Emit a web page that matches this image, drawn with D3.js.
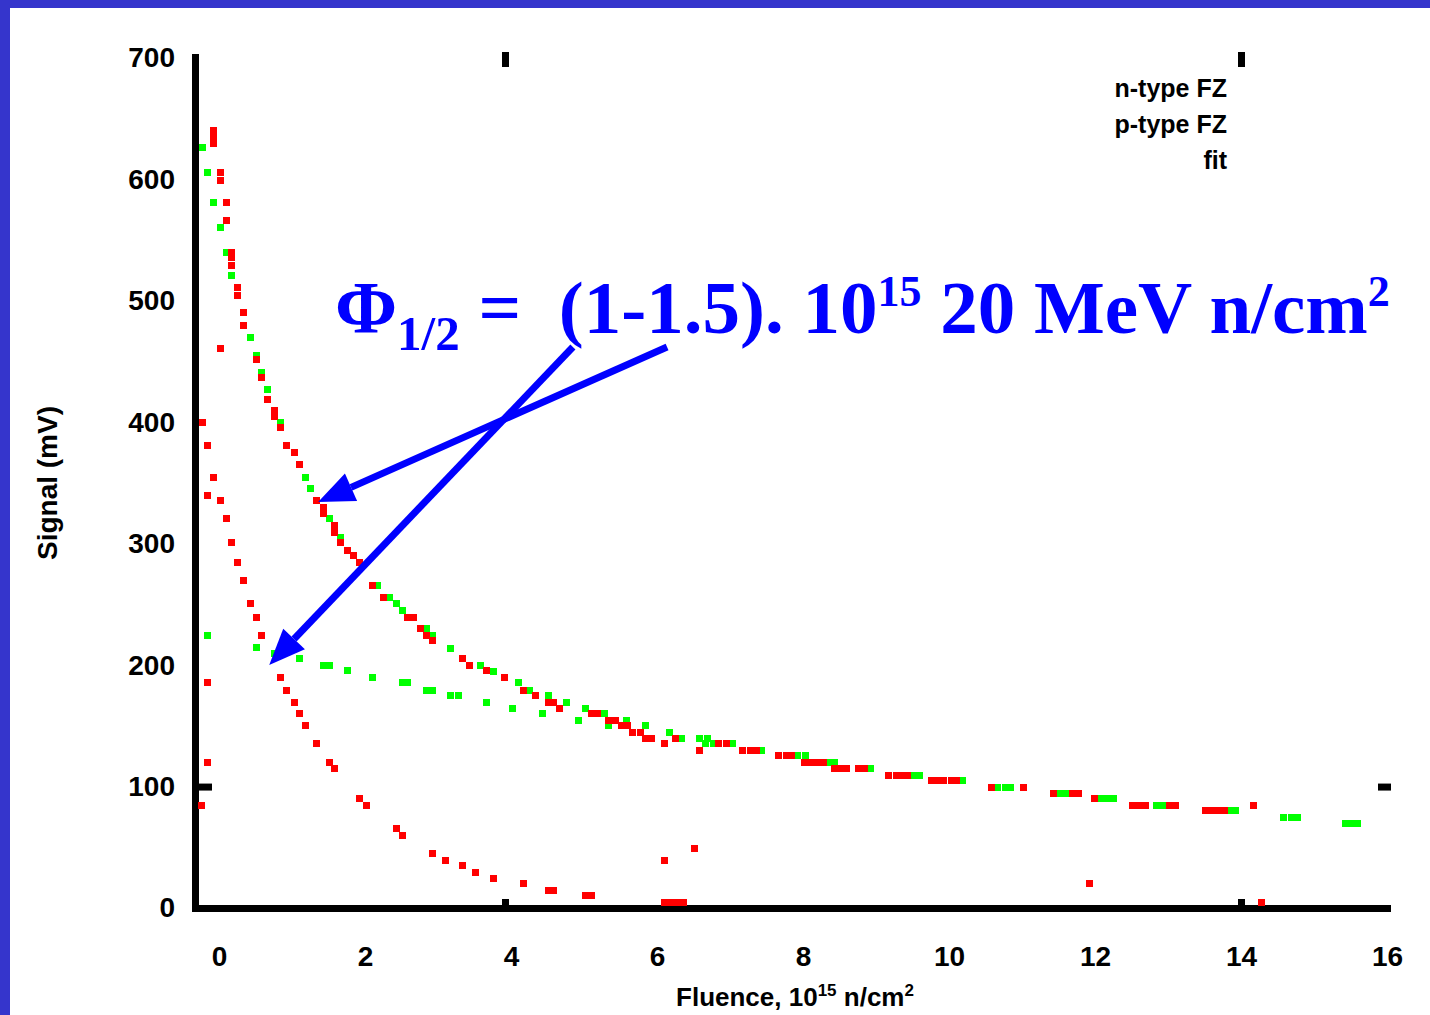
<!DOCTYPE html>
<html>
<head>
<meta charset="utf-8">
<script src="https://cdn.jsdelivr.net/npm/d3@7"></script>
<style>
body{margin:0;background:#fff;overflow:hidden}
svg{display:block}
.tick text{font-family:"Liberation Sans",Arial,sans-serif;font-weight:bold;font-size:28px;fill:#000}
.label{font-family:"Liberation Sans",Arial,sans-serif;font-weight:bold;fill:#000}
</style>
</head>
<body>
<div id="graph"></div>
<script>
// [fluence, signal]
const redUpper = [
	[0.01,640.7],[0.01,634.9],[0.01,630.0],[0.10,605.3],[0.10,599.5],[0.19,580.6],[0.19,565.8],
	[0.26,540.2],[0.26,535.3],[0.26,529.5],[0.34,510.6],[0.34,504.8],[0.42,490.8],[0.42,480.1],
	[0.59,451.3],[0.67,436.5],[0.75,418.4],[0.84,410.1],[0.84,404.4],[0.93,395.3],[1.01,380.5],
	[1.11,375.5],[1.19,365.6],[1.42,335.2],[1.51,330.2],[1.51,324.5],[1.67,315.4],[1.67,309.6],
	[1.75,300.6],[1.84,294.8],[1.93,289.9],[2.01,284.9],[2.18,265.2],[2.34,255.3],[2.67,239.6],
	[2.75,239.6],[2.84,229.8],[2.92,224.8],[3.01,219.9],[3.42,205.1],[3.51,200.1],[3.75,195.2],
	[3.99,190.2],[4.26,179.5],[4.42,174.6],[4.59,169.6],[4.67,169.6],[4.75,164.7],[5.18,159.8],
	[5.27,159.8],[5.42,154.8],[5.52,154.8],[5.59,149.9],[5.68,149.9],[5.75,144.9],[5.85,144.9],
	[5.92,140.0],[6.01,140.0],[6.18,135.1],[6.34,140.0],[6.67,130.1],[6.93,135.1],[7.03,135.1],
	[7.26,130.1],[7.36,130.1],[7.44,130.1],[7.75,125.2],[7.85,125.2],[7.93,125.2],[8.10,120.2],
	[8.19,120.2],[8.27,120.2],[8.36,120.2],[8.51,114.5],[8.59,114.5],[8.68,114.5],[8.84,114.5],
	[8.93,114.5],[9.26,109.5],[9.36,109.5],[9.44,109.5],[9.52,109.5],[9.84,104.6],[9.93,104.6],
	[10.01,104.6],[10.11,104.6],[10.19,104.6],[10.67,99.6],[11.10,99.6],[11.51,94.7],[11.77,94.7],
	[11.85,94.7],[12.08,89.8],[12.59,84.8],[12.68,84.8],[12.77,84.8],[13.10,84.8],[13.19,84.8],
	[13.59,79.9],[13.68,79.9],[13.77,79.9],[13.85,79.9],[14.26,84.8]
];
const greenUpper = [
	[-0.15,625.9],[-0.07,605.3],[0.01,580.6],[0.10,560.8],[0.18,540.2],[0.26,520.5],[0.51,470.2],
	[0.59,455.4],[0.67,441.4],[0.75,426.6],[0.93,400.2],[1.27,354.9],[1.34,345.1],[1.59,320.4],
	[1.75,305.5],[2.26,265.2],[2.42,255.3],[2.51,250.4],[2.59,245.4],[2.93,229.8],[3.01,224.8],
	[3.26,214.1],[3.67,199.3],[3.84,194.4],[4.18,185.3],[4.34,179.5],[4.59,174.6],[4.84,169.6],
	[5.10,164.7],[5.36,159.8],[5.67,154.8],[5.92,149.9],[6.26,144.9],[6.42,140.0],[6.67,140.0],
	[6.77,140.0],[7.11,135.1],[7.52,130.1],[8.01,125.2],[8.11,125.2],[8.44,120.2],[8.52,120.2],
	[9.01,114.5],[9.60,109.5],[9.68,109.5],[10.27,104.6],[10.75,99.6],[10.85,99.6],[10.93,99.6],
	[11.60,94.7],[11.68,94.7],[12.16,89.8],[12.26,89.8],[12.34,89.8],[12.92,84.8],[13.01,84.8],
	[13.93,79.9],[14.01,79.9],[14.67,74.9],[14.77,74.9],[14.85,74.9],[15.51,70.0],[15.60,70.0],
	[15.68,70.0]
];
const greenLower = [
	[-0.07,224.8],[0.59,214.9],[0.84,210.0],[1.19,205.1],[1.51,200.1],[1.59,200.1],[1.84,195.2],
	[2.18,190.2],[2.59,185.3],[2.67,185.3],[2.93,179.5],[3.01,179.5],[3.26,174.6],[3.36,174.6],
	[3.75,169.6],[4.10,164.7],[4.51,159.8],[5.01,154.8],[5.42,149.9],[6.75,135.1],[6.85,135.1]
];
const redLower = [
	[-0.15,400.2],[-0.07,380.5],[0.01,354.9],[0.10,335.2],[0.18,320.4],[0.26,300.6],[0.34,284.9],
	[0.42,270.1],[0.51,250.4],[0.59,239.6],[0.67,224.8],[0.93,190.2],[1.01,179.5],[1.11,169.6],
	[1.19,159.8],[1.27,149.9],[1.42,135.1],[1.59,120.2],[1.67,114.5],[2.01,89.8],[2.10,84.8],
	[2.51,65.1],[2.59,60.1],[3.01,44.5],[3.18,39.5],[3.42,34.6],[3.59,29.6],[3.84,24.7],
	[4.26,19.8],[4.59,14.8],[4.67,14.8],[5.10,9.9],[5.19,9.9],[6.18,4.9],[6.27,4.9],[6.36,4.9],[6.44,4.9]
];
const redStray = [
	[0.10,460.4],[-0.07,340.1],[-0.07,185.3],[-0.07,120.2],[-0.16,84.8],[6.59,49.4],[6.18,39.5],
	[12.00,19.8],[14.36,4.9]
];
const xTicks = [0,2,4,6,8,10,12,14,16];
const yTicks = [0,100,200,300,400,500,600,700];
const legendLines = ['n-type FZ','p-type FZ','fit'];

const w = 1430;
const h = 1015;
const border = '#3535cc';
const svg = d3.select('#graph')
	.append('svg')
	.attr('width',w)
	.attr('height',h);

svg.append('rect').attr('width',w).attr('height',h).attr('fill','#fff');
// blue frame of the slide
svg.append('rect').attr('x',0).attr('y',0).attr('width',w).attr('height',8).attr('fill',border);
svg.append('rect').attr('x',0).attr('y',0).attr('width',10).attr('height',h).attr('fill',border);

const xScale = d3.scaleLinear()
	.domain([0,16])
	.range([213,1381]);
const yScale = d3.scaleLinear()
	.domain([0,700])
	.range([908,58]);

//x-Axis
svg.append('g')
	.attr('transform','translate(6,908)')
	.call(d3.axisBottom(xScale).tickValues(xTicks).tickSize(0).tickPadding(38))
	.call(g => g.select('.domain').remove());

//y-Axis
svg.append('g')
	.attr('transform','translate(195,0)')
	.call(d3.axisLeft(yScale).tickValues(yTicks).tickSize(0).tickPadding(20))
	.call(g => g.select('.domain').remove());

svg.append('line').attr('x1',195.5).attr('x2',195.5).attr('y1',54).attr('y2',912)
	.attr('stroke','#000').attr('stroke-width',7);
svg.append('line').attr('x1',192).attr('x2',1391).attr('y1',908.5).attr('y2',908.5)
	.attr('stroke','#000').attr('stroke-width',7);

// leftover frame ticks
const bits = [
	[xScale(4)-3,52,7,15],[xScale(14)+3,52,7,15],
	[xScale(4)-3,899,7,7],[xScale(14)+3,899,7,7],
	[199,yScale(100)-3,13,7],[1378,yScale(100)-3,13,7]
];
svg.selectAll('rect.bit')
	.data(bits)
	.enter()
	.append('rect')
	.attr('class','bit')
	.attr('x',d => d[0]).attr('y',d => d[1])
	.attr('width',d => d[2]).attr('height',d => d[3])
	.attr('fill','#000');

function dots(data,color) {
	svg.append('g')
		.selectAll('rect')
		.data(data)
		.enter()
		.append('rect')
		.attr('x',d => xScale(d[0])-3.5)
		.attr('y',d => yScale(d[1])-3.5)
		.attr('width',7)
		.attr('height',7)
		.attr('fill',color)
		.attr('shape-rendering','crispEdges');
}
dots(greenLower,'#00ff00');
dots(redLower,'#ff0000');
dots(redStray,'#ff0000');
dots(greenUpper,'#00ff00');
dots(redUpper,'#ff0000');

// legend (text only)
svg.selectAll('text.leg')
	.data(legendLines)
	.enter()
	.append('text')
	.attr('class','label leg')
	.attr('x',1227)
	.attr('y',(d,i) => 97+i*36)
	.attr('text-anchor','end')
	.attr('font-size',25)
	.text(d => d);

//y-label
svg.append('text')
	.attr('class','label')
	.attr('transform','translate(57,483) rotate(-90)')
	.attr('text-anchor','middle')
	.attr('font-size',28)
	.text('Signal (mV)');

//x-label
const xl = svg.append('text')
	.attr('class','label')
	.attr('x',795)
	.attr('y',1006)
	.attr('text-anchor','middle')
	.attr('font-size',26);
xl.append('tspan').text('Fluence, 10');
xl.append('tspan').attr('dy',-10).attr('font-size',17).text('15');
xl.append('tspan').attr('dy',10).text(' n/cm');
xl.append('tspan').attr('dy',-10).attr('font-size',17).text('2');

// annotation arrows
const arrows = [
	{from:[6.22,462],to:[1.44,334.4]},
	{from:[4.93,462],to:[0.77,200.1]}
];
const blue = '#0000ff';
arrows.forEach(a => {
	const x1 = xScale(a.from[0]), y1 = yScale(a.from[1]);
	const x2 = xScale(a.to[0]), y2 = yScale(a.to[1]);
	const ang = Math.atan2(y2-y1,x2-x1);
	const L = 36, W = 15;
	const bx = x2 - L*Math.cos(ang), by = y2 - L*Math.sin(ang);
	svg.append('line')
		.attr('x1',x1).attr('y1',y1).attr('x2',bx).attr('y2',by)
		.attr('stroke',blue).attr('stroke-width',7);
	svg.append('polygon')
		.attr('points',[
			[x2,y2],
			[bx+W*Math.sin(ang),by-W*Math.cos(ang)],
			[bx-W*Math.sin(ang),by+W*Math.cos(ang)]
		].map(p => p.join(',')).join(' '))
		.attr('fill',blue);
});

const ann = svg.append('text')
	.attr('x',xScale(1.67))
	.attr('y',yScale(473.5))
	.attr('font-family','"Liberation Serif","Times New Roman",serif')
	.attr('font-weight','bold')
	.attr('font-size',75)
	.attr('fill',blue)
	.attr('xml:space','preserve');
ann.append('tspan').text('\u03A6');
ann.append('tspan').attr('dy',17).attr('font-size',49).text('1/2');
ann.append('tspan').attr('dy',-17).text(' =  (1-1.5). 10');
ann.append('tspan').attr('dy',-27).attr('font-size',44).text('15');
ann.append('tspan').attr('dy',27).text(' 20 MeV n/cm');
ann.append('tspan').attr('dy',-27).attr('font-size',44).text('2');
</script>
</body>
</html>
